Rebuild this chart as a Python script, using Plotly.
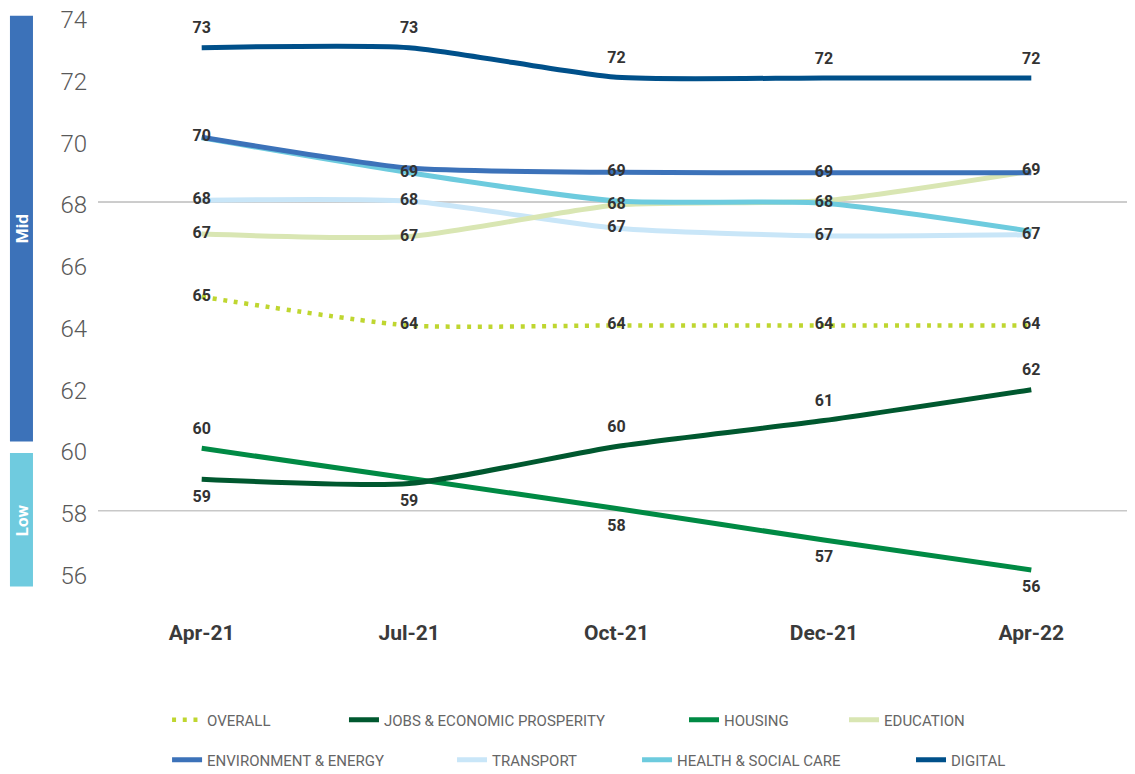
import plotly.graph_objects as go

# ---------------- data ----------------
periods = ["Apr-21", "Jul-21", "Oct-21", "Dec-21", "Apr-22"]

overall = [64.93, 64.0, 64.0, 64.0, 64.0]
jobs = [59.02, 58.88, 60.08, 60.92, 61.92]
housing = [60.02, 59.05, 58.07, 57.05, 56.08]
education = [66.96, 66.88, 67.9, 68.04, 69.0]
environment = [70.1, 69.1, 68.96, 68.95, 68.95]
transport = [68.06, 68.03, 67.15, 66.9, 66.94]
health = [70.08, 68.95, 68.03, 67.96, 67.05]
digital = [73.0, 73.0, 72.04, 72.02, 72.02]

series_names = ["OVERALL", "JOBS & ECONOMIC PROSPERITY", "HOUSING", "EDUCATION",
                "ENVIRONMENT & ENERGY", "TRANSPORT", "HEALTH & SOCIAL CARE", "DIGITAL"]
series_values = [overall, jobs, housing, education, environment, transport, health, digital]
series_colors = ["#BFD630", "#00582F", "#008A44", "#D9E6B3",
                 "#3C72B9", "#C9E6F8", "#6DCBDE", "#00508A"]

# which data labels are shown (coinciding labels shown once), and where
label_show = [
    [1, 1, 1, 1, 1],
    [1, 1, 1, 1, 1],
    [1, 0, 1, 1, 1],
    [1, 1, 1, 0, 1],
    [1, 0, 1, 1, 0],
    [1, 1, 1, 1, 1],
    [0, 1, 0, 1, 0],
    [1, 1, 1, 1, 1],
]
label_pos = [
    ["middle center"] * 5,
    ["bottom center", "bottom center", "top center", "top center", "top center"],
    ["top center", "top center", "bottom center", "bottom center", "bottom center"],
    ["middle center"] * 5,
    ["middle center"] * 5,
    ["middle center"] * 5,
    ["middle center"] * 5,
    ["top center"] * 5,
]

y_ticks = [56, 58, 60, 62, 64, 66, 68, 70, 72, 74]
reference_lines = [68, 58]
bands = [("Mid", 60.24, 74.03, "#3C72B9"), ("Low", 55.54, 59.87, "#6FCBDF")]

# legend slots: (paper x, paper y)
legend_slots = [
    (0.0666, -0.219), (0.2372, -0.219), (0.5651, -0.219), (0.7194, -0.219),
    (0.0666, -0.2877), (0.3414, -0.2877), (0.5198, -0.2877), (0.7840, -0.2877),
]

FONT = "Roboto"

fig = go.Figure()

# line traces
draw_order = [5, 3, 6, 4, 0, 2, 1, 7]
for i in draw_order:
    dash = "4px,6.7px" if i == 0 else "solid"
    width = 4.5 if i == 0 else 5
    lid = "legend" if i == 0 else f"legend{i + 1}"
    fig.add_trace(go.Scatter(
        x=periods, y=series_values[i], name=series_names[i],
        mode="lines", line=dict(color=series_colors[i], width=width, dash=dash,
                                shape="spline", smoothing=0.6),
        legend=lid, hoverinfo="skip",
    ))

# label traces drawn on top
for i in range(len(series_values)):
    vals = series_values[i]
    texts = [f"{v:.0f}" if s else "" for v, s in zip(vals, label_show[i])]
    fig.add_trace(go.Scatter(
        x=periods, y=vals, mode="markers+text", text=texts,
        textposition=label_pos[i],
        textfont=dict(family=FONT, size=16, color="#333333", weight="bold"),
        marker=dict(size=15, color="rgba(0,0,0,0)"),
        showlegend=False, hoverinfo="skip", cliponaxis=False,
    ))

shapes = []
for j, yv in enumerate(reference_lines):
    shapes.append(dict(type="line", xref="paper", x0=0, x1=1, yref="y", y0=yv, y1=yv,
                       line=dict(color="#9A9A9A" if j == 0 else "#C8C8C8",
                                 width=1 if j == 0 else 1.5),
                       layer="below"))
annotations = []
for name, lo, hi, col in bands:
    shapes.append(dict(type="rect", xref="paper", x0=-0.0849, x1=-0.0627,
                       yref="y", y0=lo, y1=hi, fillcolor=col, line=dict(width=0)))
    annotations.append(dict(text=name, xref="paper", x=-0.0738, yref="y",
                            y=(lo + hi) / 2, textangle=-90, showarrow=False,
                            xanchor="center", yanchor="middle",
                            font=dict(family=FONT, size=17, color="white", weight="bold")))

layout_legends = {}
for i, (lx, ly) in enumerate(legend_slots):
    key = "legend" if i == 0 else f"legend{i + 1}"
    layout_legends[key] = dict(
        x=lx, y=ly, xanchor="left", yanchor="middle", orientation="h",
        font=dict(family=FONT, size=15, color="#666666"),
        bgcolor="rgba(0,0,0,0)", borderwidth=0, itemwidth=30,
    )

fig.update_layout(
    width=1135, height=774,
    margin=dict(l=90, r=8, t=0, b=190),
    paper_bgcolor="white", plot_bgcolor="white",
    font=dict(family=FONT),
    shapes=shapes, annotations=annotations,
    xaxis=dict(type="category", range=[-0.5, 4.5], showgrid=False, zeroline=False,
               showline=False, ticks="", ticklabelstandoff=26, automargin=False,
               tickfont=dict(family=FONT, size=21, color="#3A3A3A", weight="bold")),
    yaxis=dict(range=[55.365, 74.285], tickvals=y_ticks, showgrid=False,
               zeroline=False, showline=False, ticks="", ticklabelstandoff=10,
               ticklabelshift=3,
               ticklabeloverflow="allow", automargin=False,
               tickfont=dict(family=FONT, size=24, color="#595959", weight=300)),
    **layout_legends,
)

fig.write_html("out.html")
